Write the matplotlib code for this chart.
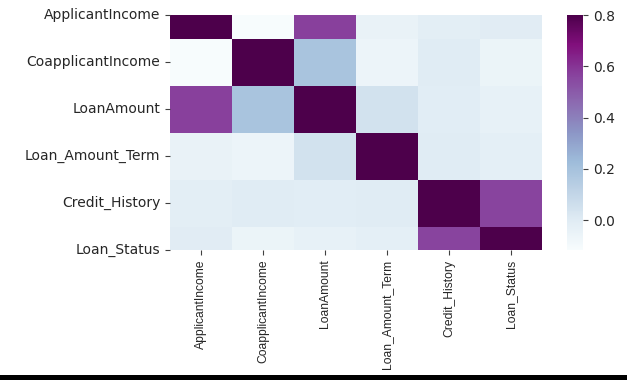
import numpy as np
import pandas as pd
import seaborn as sns
import matplotlib.pyplot as plt
from matplotlib.patches import Rectangle

cols = ['ApplicantIncome', 'CoapplicantIncome', 'LoanAmount',
        'Loan_Amount_Term', 'Credit_History', 'Loan_Status']

# correlation values (row by row)
r_app = [1.0, -0.117, 0.571, -0.045, -0.015, -0.005]
r_coapp = [-0.117, 1.0, 0.189, -0.060, -0.002, -0.059]
r_amount = [0.571, 0.189, 1.0, 0.045, -0.008, -0.037]
r_term = [-0.045, -0.060, 0.045, 1.0, 0.001, -0.021]
r_credit = [-0.015, -0.002, -0.008, 0.001, 1.0, 0.562]
r_status = [-0.005, -0.059, -0.037, -0.021, 0.562, 1.0]

corr = pd.DataFrame([r_app, r_coapp, r_amount, r_term, r_credit, r_status],
                    index=cols, columns=cols)

fig = plt.figure(figsize=(6.27, 3.8), dpi=100)
ax = fig.add_axes([0.2711, 0.3421, 0.5933, 0.6184])
cax = fig.add_axes([0.9043, 0.3421, 0.0255, 0.6184])

sns.heatmap(corr, vmax=.8, cmap="BuPu", ax=ax, cbar_ax=cax)
# the old matplotlib clipped the first and last rows in half
ax.set_ylim(5.5, 0.5)

ax.tick_params(axis='both', length=3.5, width=0.8, color='#404040',
               labelsize=10, labelcolor='#262626')
ax.set_xticklabels(cols, rotation=90, fontsize=8.7,
                   family=['Liberation Sans', 'DejaVu Sans'])
ax.set_yticklabels(cols, rotation=0)
cax.tick_params(length=3.5, width=0.8, color='#404040',
                labelsize=10, labelcolor='#262626')
cax.set_yticks([0.0, 0.2, 0.4, 0.6, 0.8])

# black band at the bottom of the screenshot
fig.patches.append(Rectangle((0, 0), 1, 5 / 380, transform=fig.transFigure,
                             facecolor='black', edgecolor='none'))

fig.savefig('out.png', dpi=100)
